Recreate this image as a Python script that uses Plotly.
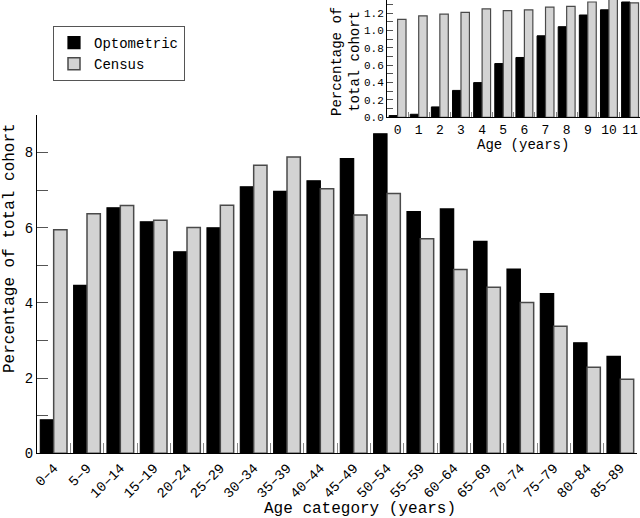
import plotly.graph_objects as go

W, H = 640, 518
FONT = "Liberation Mono, Courier New, monospace"

age_categories = ["0–4", "5–9", "10–14", "15–19", "20–24", "25–29", "30–34", "35–39",
                  "40–44", "45–49", "50–54", "55–59", "60–64", "65–69", "70–74", "75–79",
                  "80–84", "85–89"]
optometric = [0.89, 4.47, 6.53, 6.16, 5.36, 6.00, 7.09, 6.97, 7.25, 7.84, 8.50, 6.43,
              6.50, 5.64, 4.90, 4.25, 2.94, 2.58]
census = [5.95, 6.37, 6.59, 6.20, 6.01, 6.60, 7.66, 7.88, 7.04, 6.34, 6.91, 5.71,
          4.89, 4.42, 4.01, 3.38, 2.29, 1.97]

inset_ages = ["0", "1", "2", "3", "4", "5", "6", "7", "8", "9", "10", "11"]
inset_optometric = [0.02, 0.035, 0.12, 0.31, 0.40, 0.62, 0.69, 0.94, 1.045, 1.18, 1.24, 1.33]
inset_census = [1.13, 1.17, 1.19, 1.21, 1.25, 1.23, 1.24, 1.27, 1.28, 1.33, 1.36, 1.32]

main_ytick_vals = [0, 1, 2, 3, 4, 5, 6, 7, 8, 9]
main_ytick_text = ["0", "", "2", "", "4", "", "6", "", "8", ""]
inset_ytick_vals = [0.0, 0.1, 0.2, 0.3, 0.4, 0.5, 0.6, 0.7, 0.8, 0.9, 1.0, 1.1, 1.2, 1.3]
inset_ytick_text = ["0.0", "", "0.2", "", "0.4", "", "0.6", "", "0.8", "", "1.0", "", "1.2", ""]

BLACK = "#000000"
GREY = "#d3d3d3"
GREY_EDGE = "#4a4a4a"

fig = go.Figure()
fig.add_trace(go.Bar(name="Optometric", x=age_categories, y=optometric,
                     marker=dict(color=BLACK, line=dict(color=BLACK, width=1.2)),
                     xaxis="x", yaxis="y"))
fig.add_trace(go.Bar(name="Census", x=age_categories, y=census,
                     marker=dict(color=GREY, line=dict(color=GREY_EDGE, width=1.5)),
                     xaxis="x", yaxis="y"))
fig.add_trace(go.Bar(name="Optometric", x=inset_ages, y=inset_optometric, showlegend=False,
                     marker=dict(color=BLACK, line=dict(color=BLACK, width=1)),
                     xaxis="x2", yaxis="y2"))
fig.add_trace(go.Bar(name="Census", x=inset_ages, y=inset_census, showlegend=False,
                     marker=dict(color=GREY, line=dict(color=GREY_EDGE, width=1.2)),
                     xaxis="x2", yaxis="y2"))

def px(x):
    return x / W

def py(y):
    return 1 - y / H

fig.update_layout(
    template="none",
    width=W, height=H,
    margin=dict(l=0, r=0, t=0, b=0, autoexpand=False),
    paper_bgcolor="white", plot_bgcolor="white",
    font=dict(family=FONT, color="black", size=14),
    barmode="group", bargap=0.2, bargroupgap=0.0,
    showlegend=True,
    legend=dict(x=px(53), y=py(26), xanchor="left", yanchor="top",
                bgcolor="white", bordercolor="#555555", borderwidth=1,
                font=dict(family=FONT, size=14), itemwidth=30,
                tracegroupgap=0),
    xaxis=dict(domain=[px(37), px(637)], type="category", range=[-0.5, 17.5],
               showline=True, linecolor="black", linewidth=1, automargin=False,
               ticks="inside", tickson="boundaries", ticklen=10, tickcolor="#888888",
               tickangle=-45, tickfont=dict(family=FONT, size=14),
               showgrid=False, zeroline=False, anchor="y"),
    yaxis=dict(domain=[py(453.3), py(115)], range=[0, 9], automargin=False,
               tickmode="array", tickvals=main_ytick_vals, ticktext=main_ytick_text,
               showline=True, linecolor="black", linewidth=1,
               ticks="inside", ticklen=11, tickcolor="#555555",
               tickfont=dict(family=FONT, size=14),
               showgrid=False, zeroline=False, anchor="x"),
    xaxis2=dict(domain=[px(387), 1.0], type="category", range=[-0.5, 11.47],
                showline=True, linecolor="black", linewidth=1, automargin=False,
                ticks="inside", tickson="boundaries", ticklen=5, tickcolor="#888888",
                tickangle=0, tickfont=dict(family=FONT, size=13),
                showgrid=False, zeroline=False, anchor="y2"),
    yaxis2=dict(domain=[py(117.3), 1.0], range=[0, 1.353], automargin=False,
                tickmode="array", tickvals=inset_ytick_vals, ticktext=inset_ytick_text,
                showline=True, linecolor="black", linewidth=1,
                ticks="inside", ticklen=6, tickcolor="#555555",
                tickfont=dict(family=FONT, size=11),
                showgrid=False, zeroline=False, anchor="x2"),
    annotations=[
        dict(text="Age category (years)", x=px(360), y=py(509), xref="paper", yref="paper",
             showarrow=False, xanchor="center", yanchor="middle",
             font=dict(family=FONT, size=16)),
        dict(text="Percentage of total cohort", x=px(10), y=py(248), xref="paper", yref="paper",
             showarrow=False, xanchor="center", yanchor="middle", textangle=-90,
             font=dict(family=FONT, size=16)),
        dict(text="Age (years)", x=px(523), y=py(145), xref="paper", yref="paper",
             showarrow=False, xanchor="center", yanchor="middle",
             font=dict(family=FONT, size=14)),
        dict(text="Percentage of<br>total cohort", x=px(346), y=py(62), xref="paper", yref="paper",
             showarrow=False, xanchor="center", yanchor="middle", textangle=-90,
             font=dict(family=FONT, size=14)),
    ],
)

fig.write_html("out.html", config={"displayModeBar": False},
               post_script="document.body.style.margin='0';document.body.style.overflow='hidden';")
